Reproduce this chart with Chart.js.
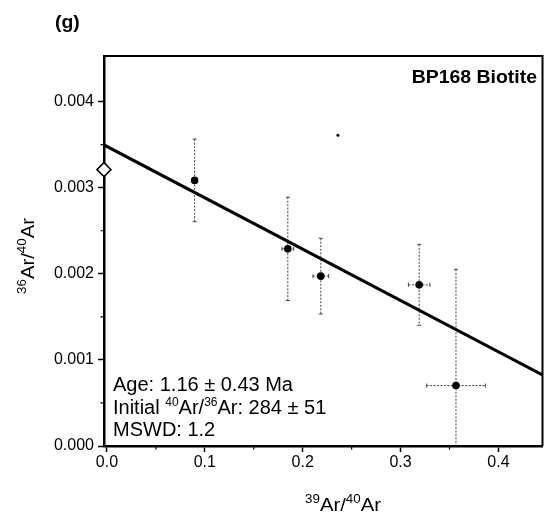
<!DOCTYPE html>
<html>
<head>
<meta charset="utf-8">
<script src="https://cdn.jsdelivr.net/npm/chart.js@4.4.1/dist/chart.umd.min.js"></script>
<style>
  html, body { margin: 0; padding: 0; background: #fff; }
  #wrap { width: 551px; height: 514px; }
</style>
</head>
<body>
<div id="wrap"><canvas id="c" width="551" height="514"></canvas></div>
<script>
// ---- data ----
const pointX = [0.0896, 0.1848, 0.2185, 0.3190, 0.3566];
const pointY = [0.003085, 0.00229, 0.001973, 0.001872, 0.000702];
const errX   = [0.0, 0.006, 0.008, 0.011, 0.030];
const errY   = [0.00048, 0.0006, 0.00044, 0.00047, 0.00135];
const interceptX = [-0.003];
const interceptY = [0.00321];
const fitX = [-0.003, 0.445];
const fitY = [0.003497, 0.000826];
const speckX = [0.236];
const speckY = [0.00361];
const xTicks = [0.0, 0.1, 0.2, 0.3, 0.4];
const xMinor = [0.05, 0.15, 0.25, 0.35];
const yTicks = [0.000, 0.001, 0.002, 0.003, 0.004];
const yMinor = [0.0005, 0.0015, 0.0025, 0.0035];
const panelLabel = "(g)";
const sampleLabel = "BP168 Biotite";
const ageLine = "Age: 1.16 \u00B1 0.43 Ma";
const initLine = [["Initial ", false], ["40", true], ["Ar/", false], ["36", true], ["Ar: 284 \u00B1 51", false]];
const mswdLine = "MSWD: 1.2";
const xTitle = [["39", true], ["Ar/", false], ["40", true], ["Ar", false]];
const yTitle = [["36", true], ["Ar/", false], ["40", true], ["Ar", false]];

const FAM = '"Liberation Sans", Arial, Helvetica, sans-serif';

function drawRich(ctx, parts, x, y, fs, ss, rise, hs) {
  ctx.save();
  ctx.translate(x, y);
  ctx.scale(hs, 1);
  let cx = 0;
  ctx.textBaseline = 'alphabetic';
  ctx.textAlign = 'left';
  for (const [t, sup] of parts) {
    ctx.font = (sup ? ss : fs) + 'px ' + FAM;
    ctx.fillText(t, cx, sup ? -rise : 0);
    cx += ctx.measureText(t).width;
  }
  ctx.restore();
}

const errorBars = {
  id: 'errorBars',
  beforeDatasetsDraw(chart) {
    const {ctx, chartArea: a, scales: {x, y}} = chart;
    ctx.save();
    ctx.beginPath();
    ctx.rect(a.left, a.top, a.right - a.left, a.bottom - a.top);
    ctx.clip();
    ctx.strokeStyle = '#444';
    ctx.lineWidth = 1;
    for (let i = 0; i < pointX.length; i++) {
      const px = x.getPixelForValue(pointX[i]);
      const py = y.getPixelForValue(pointY[i]);
      const yt = y.getPixelForValue(pointY[i] + errY[i]);
      const yb = y.getPixelForValue(pointY[i] - errY[i]);
      ctx.setLineDash([2, 1.5]);
      ctx.beginPath(); ctx.moveTo(px, yt); ctx.lineTo(px, yb); ctx.stroke();
      ctx.setLineDash([]);
      ctx.beginPath();
      ctx.moveTo(px - 2, yt); ctx.lineTo(px + 2, yt);
      ctx.moveTo(px - 2, yb); ctx.lineTo(px + 2, yb);
      ctx.stroke();
      if (errX[i] > 0) {
        const xl = x.getPixelForValue(pointX[i] - errX[i]);
        const xr = x.getPixelForValue(pointX[i] + errX[i]);
        ctx.setLineDash([2, 1.5]);
        ctx.beginPath(); ctx.moveTo(xl, py); ctx.lineTo(xr, py); ctx.stroke();
        ctx.setLineDash([]);
        ctx.beginPath();
        ctx.moveTo(xl, py - 2); ctx.lineTo(xl, py + 2);
        ctx.moveTo(xr, py - 2); ctx.lineTo(xr, py + 2);
        ctx.stroke();
      }
    }
    ctx.restore();
  }
};

const decor = {
  id: 'decor',
  afterDraw(chart) {
    const {ctx, chartArea: a, scales: {x, y}} = chart;
    ctx.save();
    // top & right frame
    ctx.strokeStyle = '#000';
    ctx.lineWidth = 2;
    ctx.beginPath();
    ctx.moveTo(a.left, a.top); ctx.lineTo(a.right, a.top); ctx.lineTo(a.right, a.bottom);
    ctx.stroke();
    // minor ticks
    ctx.lineWidth = 1.2;
    ctx.beginPath();
    for (const v of xMinor) {
      const px = x.getPixelForValue(v);
      ctx.moveTo(px, a.bottom); ctx.lineTo(px, a.bottom + 3.5);
    }
    for (const v of yMinor) {
      const py = y.getPixelForValue(v);
      ctx.moveTo(a.left, py); ctx.lineTo(a.left - 3.5, py);
    }
    ctx.stroke();
    ctx.fillStyle = '#000';
    // panel label
    ctx.save();
    ctx.translate(55, 23);
    ctx.scale(1.08, 1);
    ctx.font = 'bold 18px ' + FAM;
    ctx.textAlign = 'left';
    ctx.textBaseline = 'middle';
    ctx.fillText(panelLabel, 0, 0);
    ctx.restore();
    // sample label
    ctx.save();
    ctx.translate(537, 83);
    ctx.scale(1.08, 1);
    ctx.font = 'bold 18px ' + FAM;
    ctx.textAlign = 'right';
    ctx.textBaseline = 'alphabetic';
    ctx.fillText(sampleLabel, 0, 0);
    ctx.restore();
    // annotation
    drawRich(ctx, [[ageLine, false]], 113, 391, 20, 12, 7, 1);
    drawRich(ctx, initLine, 113, 413.5, 20, 12, 8, 1);
    drawRich(ctx, [[mswdLine, false]], 113, 436, 20, 12, 7, 1);
    // axis titles
    drawRich(ctx, xTitle, 305, 511, 19, 12.5, 8, 1.07);
    ctx.save();
    ctx.translate(34, 294);
    ctx.rotate(-Math.PI / 2);
    drawRich(ctx, yTitle, 0, 0, 19, 12.5, 8, 1.07);
    ctx.restore();
    ctx.restore();
  }
};

new Chart(document.getElementById('c'), {
  type: 'scatter',
  data: {
    datasets: [
      {
        type: 'line',
        data: fitX.map((v, i) => ({x: v, y: fitY[i]})),
        borderColor: '#000',
        borderWidth: 3,
        pointRadius: 0,
        fill: false,
        order: 3
      },
      {
        data: pointX.map((v, i) => ({x: v, y: pointY[i]})),
        backgroundColor: '#000',
        borderColor: '#000',
        borderWidth: 0,
        pointRadius: 3.8,
        order: 1
      },
      {
        data: speckX.map((v, i) => ({x: v, y: speckY[i]})),
        backgroundColor: '#000',
        borderWidth: 0,
        pointRadius: 1.5,
        order: 2
      },
      {
        data: interceptX.map((v, i) => ({x: v, y: interceptY[i]})),
        pointStyle: 'rectRot',
        pointRadius: 7,
        backgroundColor: '#fff',
        borderColor: '#000',
        borderWidth: 1.5,
        clip: false,
        order: 0
      }
    ]
  },
  options: {
    responsive: false,
    animation: false,
    events: [],
    layout: { padding: { top: 56, right: 3, left: 0, bottom: 0 } },
    plugins: { legend: { display: false }, tooltip: { enabled: false } },
    scales: {
      x: {
        type: 'linear',
        min: -0.003,
        max: 0.445,
        afterBuildTicks: s => { s.ticks = xTicks.map(v => ({value: v})); },
        afterFit: s => { s.height = 68; },
        ticks: {
          callback: v => Number(v).toFixed(1),
          font: { size: 16, family: FAM },
          color: '#000',
          padding: 1,
          maxRotation: 0,
          autoSkip: false
        },
        grid: { drawOnChartArea: false, drawTicks: true, tickLength: 6, color: '#000', tickWidth: 1.5 },
        border: { display: true, color: '#000', width: 2.5 }
      },
      y: {
        type: 'linear',
        min: 0,
        max: 0.00453,
        afterBuildTicks: s => { s.ticks = yTicks.map(v => ({value: v})); },
        afterFit: s => { s.width = 104; },
        ticks: {
          callback: v => Number(v).toFixed(3),
          font: { size: 16, family: FAM },
          color: '#000',
          padding: 4,
          autoSkip: false
        },
        grid: { drawOnChartArea: false, drawTicks: true, tickLength: 6, color: '#000', tickWidth: 1.5 },
        border: { display: true, color: '#000', width: 2.5 }
      }
    }
  },
  plugins: [errorBars, decor]
});
</script>
</body>
</html>
